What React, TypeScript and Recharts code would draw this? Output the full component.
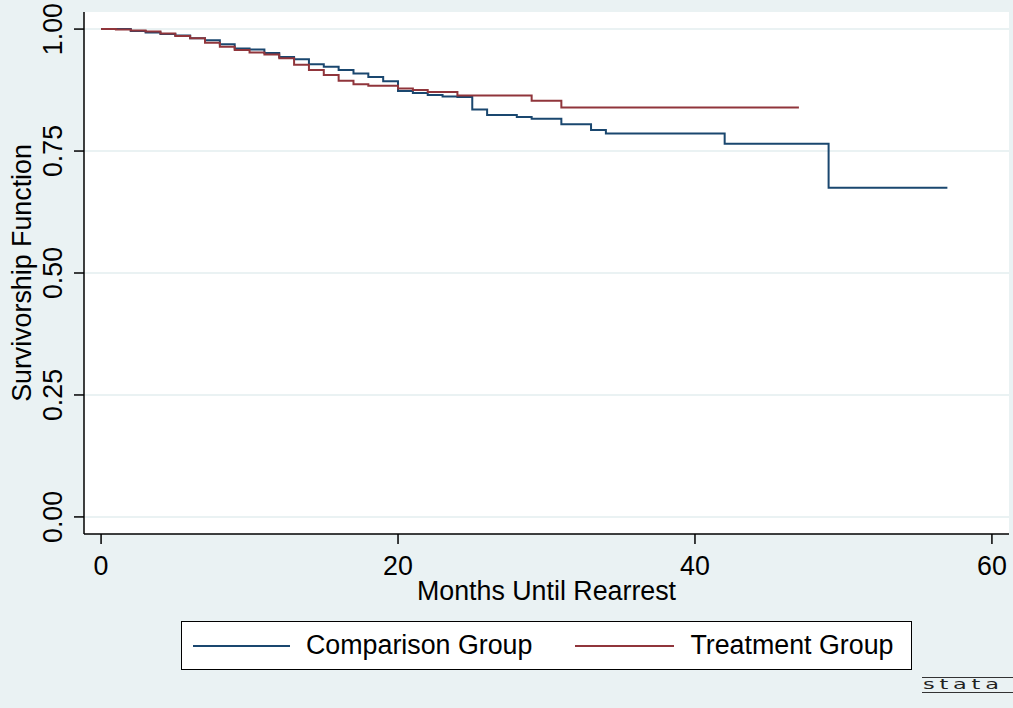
import { LineChart, Line, XAxis, YAxis, CartesianGrid, Legend } from 'recharts';

// Kaplan-Meier estimates
const comparisonMonths = [0, 2, 3, 4, 5, 6, 7, 8, 9, 10, 11, 12, 13, 14, 15, 16, 17, 18, 19, 20, 21, 22, 23, 24, 25, 26, 28, 29, 31, 33, 34, 42, 49, 57];
const comparisonSurv = [1.0, 0.996, 0.993, 0.99, 0.987, 0.981, 0.977, 0.969, 0.96, 0.958, 0.951, 0.943, 0.938, 0.928, 0.923, 0.916, 0.909, 0.902, 0.893, 0.873, 0.869, 0.865, 0.862, 0.861, 0.835, 0.824, 0.82, 0.816, 0.805, 0.793, 0.786, 0.765, 0.675, 0.675];

const treatmentMonths = [0, 1, 2, 3, 4, 5, 6, 7, 8, 9, 10, 11, 12, 13, 14, 15, 16, 17, 18, 20, 21, 22, 24, 29, 31, 47];
const treatmentSurv = [1.0, 0.999, 0.997, 0.995, 0.991, 0.986, 0.981, 0.972, 0.964, 0.957, 0.952, 0.948, 0.94, 0.927, 0.916, 0.906, 0.894, 0.887, 0.884, 0.878, 0.875, 0.871, 0.864, 0.853, 0.839, 0.839];

const xTicks = [0, 20, 40, 60];
const yTicks = [0, 0.25, 0.5, 0.75, 1];

const seriesNames = ['Comparison Group', 'Treatment Group'];
const BLUE = '#1a476f';
const RED = '#90353b';
const BG = '#eaf2f3';
const FONT = '"Liberation Sans", Arial, sans-serif';
const FS = 26.8;

const toRows = (months: number[], surv: number[]) =>
    months.map((m, i) => ({ month: m, surv: surv[i] }));

const comparisonData = toRows(comparisonMonths, comparisonSurv);
const treatmentData = toRows(treatmentMonths, treatmentSurv);

const XTick = ({ x, payload }: any) => (
    <text x={x} y={575} textAnchor="middle" fontSize={FS} fill="#000" fontFamily={FONT}>
        {payload.value}
    </text>
);

const YTick = ({ y, payload }: any) => (
    <text x={62} y={y} transform={`rotate(-90, 62, ${y})`} textAnchor="middle" fontSize={FS} fill="#000" fontFamily={FONT}>
        {Number(payload.value).toFixed(2)}
    </text>
);

const LegendBox = () => (
    <div style={{
        width: 731, height: 49, boxSizing: 'border-box', border: '1.5px solid #000', background: '#fff',
        display: 'flex', alignItems: 'center', fontFamily: FONT, fontSize: FS, color: '#000', whiteSpace: 'nowrap',
    }}>
        <div style={{ width: 97, height: 2, background: BLUE, marginLeft: 11 }} />
        <span style={{ marginLeft: 16 }}>{seriesNames[0]}</span>
        <div style={{ width: 99, height: 2, background: RED, marginLeft: 43 }} />
        <span style={{ marginLeft: 16 }}>{seriesNames[1]}</span>
    </div>
);

export default function App() {
    return (
        <div style={{ position: 'absolute', left: 0, top: 0, width: 1013, height: 708, background: BG, overflow: 'hidden' }}>
            <LineChart width={1013} height={708} margin={{ top: 12, right: 4, bottom: 0, left: 0 }}>
                <CartesianGrid vertical={false} horizontalValues={yTicks} stroke={BG} strokeWidth={2} fill="#fff" />
                <XAxis
                    type="number"
                    dataKey="month"
                    domain={[-1.15, 61.15]}
                    ticks={xTicks}
                    allowDataOverflow
                    height={174}
                    tickSize={10}
                    tick={<XTick />}
                    axisLine={{ stroke: '#000', strokeWidth: 1.5 }}
                    tickLine={{ stroke: '#000', strokeWidth: 1.5 }}
                    label={{
                        content: () => (
                            <text x={546.5} y={600} textAnchor="middle" fontSize={FS} fill="#000" fontFamily={FONT}>
                                Months Until Rearrest
                            </text>
                        ),
                    }}
                />
                <YAxis
                    type="number"
                    domain={[-0.035, 1.035]}
                    ticks={yTicks}
                    allowDataOverflow
                    width={84}
                    tickSize={10}
                    tick={<YTick />}
                    axisLine={{ stroke: '#000', strokeWidth: 1.5 }}
                    tickLine={{ stroke: '#000', strokeWidth: 1.5 }}
                    label={{
                        content: () => (
                            <text x={31} y={273} transform="rotate(-90, 31, 273)" textAnchor="middle" fontSize={FS} fill="#000" fontFamily={FONT}>
                                Survivorship Function
                            </text>
                        ),
                    }}
                />
                <Line data={comparisonData} dataKey="surv" name={seriesNames[0]} type="stepAfter" stroke={BLUE} strokeWidth={2} dot={false} isAnimationActive={false} />
                <Line data={treatmentData} dataKey="surv" name={seriesNames[1]} type="stepAfter" stroke={RED} strokeWidth={2} dot={false} isAnimationActive={false} />
                <Legend
                    verticalAlign="middle"
                    align="center"
                    content={() => <LegendBox />}
                    wrapperStyle={{ position: 'absolute', left: 181, top: 621, width: 731, height: 49 }}
                />
            </LineChart>
            <div style={{
                position: 'absolute', left: 922, top: 677, width: 100, height: 16, boxSizing: 'border-box',
                borderTop: '1px solid #333', borderBottom: '1px solid #333',
                fontFamily: '"DejaVu Sans", sans-serif', fontSize: 14, lineHeight: '13px', color: '#222',
                letterSpacing: 3, paddingLeft: 1, overflow: 'hidden', whiteSpace: 'nowrap',
            }}>
                <span style={{ display: 'inline-block', transform: 'scaleX(1.6)', transformOrigin: 'left' }}>stata</span>
            </div>
        </div>
    );
}
